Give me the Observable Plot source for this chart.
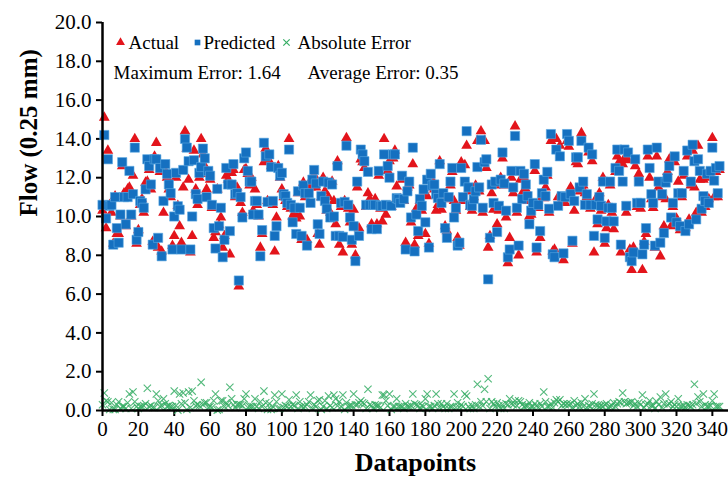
<!DOCTYPE html>
<html>
<head>
<meta charset="utf-8">
<script src="https://cdn.jsdelivr.net/npm/d3@7"></script>
<script src="https://cdn.jsdelivr.net/npm/@observablehq/plot@0.6"></script>
<style>
  html, body { margin: 0; padding: 0; background: #fff; }
  #chart { width: 728px; height: 477px; overflow: hidden; }
</style>
</head>
<body>
<div id="chart"></div>
<script>
// ---- Data ----
const actual = [
10.3,15.1,9.4,13.4,10.6,10.2,8.6,11.05,9.1,9.1,
10.0,12.6,11.2,9.5,11.4,11.5,10.0,12.1,14.0,8.6,
9.3,10.6,10.9,10.2,11.75,11.8,12.4,11.4,8.7,13.1,
13.8,8.4,12.3,8.2,10.2,12.35,12.0,11.4,11.0,8.5,
9.0,12.0,10.55,9.5,8.65,11.5,14.4,13.5,11.9,8.15,
9.0,13.4,11.4,10.6,12.0,14.0,13.2,12.6,11.4,12.2,
11.9,10.45,8.9,9.2,11.4,9.55,9.95,8.4,9.0,12.1,
11.9,8.05,12.25,12.4,11.0,11.5,6.4,10.7,10.2,12.4,
12.45,12.2,11.6,12.0,10.3,11.4,10.6,10.0,8.4,9.1,
12.8,13.5,10.8,12.85,12.6,10.6,8.2,9.95,12.6,12.0,
11.4,11.0,10.8,10.5,14.0,10.4,10.0,10.2,9.9,11.2,
10.0,8.8,11.75,11.0,8.8,11.65,11.5,12.0,12.1,11.5,
9.1,8.55,11.0,12.0,11.3,10.3,11.0,10.2,11.8,10.8,
9.6,12.85,8.55,10.5,8.15,10.8,14.05,10.4,9.7,8.55,
10.35,8.0,11.5,9.4,12.95,12.8,12.5,10.5,11.2,10.9,
9.6,10.5,10.9,9.6,12.1,10.4,9.75,14.0,10.1,12.35,
12.85,10.5,13.0,13.4,11.55,10.7,10.9,11.9,10.8,8.65,
11.5,11.6,9.7,12.7,8.55,10.4,9.0,10.8,10.3,11.2,
9.1,11.05,8.6,12.0,11.5,11.4,10.3,10.6,12.85,10.35,
11.0,9.5,9.25,10.9,11.6,12.3,10.8,10.3,8.9,8.5,
12.8,10.8,12.65,13.65,11.3,10.5,10.3,11.0,11.6,13.9,
11.3,14.4,10.2,13.9,12.5,8.4,9.0,11.2,10.35,11.6,
9.6,10.3,12.0,13.0,11.6,9.95,7.6,8.9,12.0,11.2,
14.65,10.2,8.0,11.9,11.2,12.0,11.4,10.8,10.0,10.1,
10.5,12.35,8.15,10.45,8.9,11.0,10.95,11.5,12.1,10.2,
13.9,8.2,8.3,14.0,11.0,13.65,10.8,7.75,10.7,13.9,
13.6,11.5,8.6,10.3,12.8,12.7,11.3,14.3,11.6,11.2,
11.0,13.3,10.4,12.85,8.15,10.9,9.6,11.2,10.3,12.0,
8.6,9.4,10.6,11.6,10.2,9.35,12.3,13.1,12.8,8.15,
12.7,13.0,10.2,12.9,8.3,7.25,8.4,12.6,10.5,12.2,
10.4,7.25,8.7,9.1,13.1,12.0,10.9,10.45,8.4,13.1,
11.5,7.95,11.0,9.5,10.9,12.3,12.95,9.5,10.5,12.8,
9.9,11.8,9.3,11.0,12.1,9.4,13.1,9.85,11.6,13.4,
11.5,10.2,13.65,11.9,10.2,11.9,10.5,12.0,10.9,12.1,
14.05,11.0,12.3,11.0,12.4
];
const predicted = [
10.6,14.2,9.9,12.95,10.55,10.6,8.55,11.0,9.4,8.65,
10.1,12.8,11.0,9.6,11.0,12.35,10.1,11.15,13.55,8.8,
9.2,10.8,10.7,10.45,11.4,12.95,12.6,11.65,8.55,12.95,
12.95,8.9,12.5,7.95,10.8,12.7,12.2,11.65,11.2,8.3,
10.0,12.25,10.53,10.35,8.3,12.4,14.0,13.55,12.85,8.3,
10.0,12.9,11.15,10.9,12.25,12.55,13.5,13.0,11.0,12.35,
12.1,10.6,9.4,8.35,11.42,9.5,10.45,7.9,8.8,12.5,
11.65,9.25,11.65,12.7,11.15,11.2,6.7,11.0,9.95,13.0,
13.3,12.35,11.8,11.8,10.1,10.8,10.8,10.1,7.95,9.3,
13.8,13.1,10.75,13.2,12.55,10.8,9.0,9.5,12.5,12.1,
12.25,11.15,11.05,10.7,13.45,10.6,9.7,10.45,9.1,11.3,
10.45,9.0,11.6,11.2,8.5,11.2,10.7,11.9,12.4,11.7,
9.6,9.1,11.05,11.8,10.8,10.4,11.75,9.95,11.65,10.0,
9.0,12.6,9.0,10.7,8.95,10.75,13.65,10.6,9.95,8.8,
9.5,7.7,11.8,9.0,13.45,13.2,12.85,10.6,12.3,10.6,
9.35,10.6,10.6,9.35,12.35,10.55,10.55,13.2,10.6,12.6,
12.0,10.55,13.2,13.2,10.95,10.9,10.7,12.1,10.9,8.3,
11.3,11.8,9.95,13.55,8.2,10.1,9.25,10.9,10.55,11.4,
9.7,11.9,8.4,12.2,11.6,11.65,11.15,10.95,12.7,10.7,
11.2,9.4,8.9,11.0,11.8,12.5,9.95,10.45,8.5,8.65,
12.5,11.0,11.8,14.4,11.5,10.6,10.55,10.9,11.3,12.55,
11.5,13.95,10.45,12.8,12.95,6.76,8.9,11.65,10.7,11.8,
9.2,10.55,11.9,13.3,11.7,10.3,7.9,8.3,12.35,11.5,
14.15,10.45,8.5,12.35,10.9,12.2,11.65,11.05,9.6,10.3,
10.7,12.7,8.4,10.6,9.25,11.2,11.9,11.05,12.3,10.4,
14.25,8.05,7.9,13.45,10.55,13.1,11.05,8.1,11.0,14.25,
13.9,11.15,8.75,10.8,13.05,13.05,11.5,13.9,11.8,10.6,
11.15,13.55,10.6,13.2,9.0,10.6,9.85,11.0,10.55,11.8,
8.9,9.75,10.45,11.8,10.45,9.75,12.5,13.45,12.35,8.55,
11.8,13.45,10.55,13.3,7.9,7.7,8.15,12.95,10.7,11.8,
10.7,8.05,8.55,9.4,13.45,12.5,11.15,10.7,8.5,13.55,
11.8,8.65,11.15,9.15,11.75,12.0,12.6,9.95,10.7,13.1,
9.7,11.2,9.5,11.2,12.35,9.25,13.4,9.6,11.8,13.7,
12.85,9.85,12.95,12.35,10.4,11.05,10.8,12.2,10.7,12.35,
13.55,11.85,12.5,11.2,12.6
];
const absError = [
0.3,0.9,0.5,0.45,0.05,0.4,0.05,0.05,0.3,0.45,
0.1,0.2,0.2,0.1,0.4,0.85,0.1,0.95,0.45,0.2,
0.1,0.2,0.2,0.25,0.35,1.15,0.2,0.25,0.15,0.15,
0.85,0.5,0.2,0.25,0.6,0.35,0.2,0.25,0.2,0.2,
1.0,0.25,0.02,0.85,0.35,0.9,0.4,0.05,0.95,0.15,
1.0,0.5,0.25,0.3,0.25,1.45,0.3,0.4,0.4,0.15,
0.2,0.15,0.5,0.85,0.02,0.05,0.5,0.5,0.2,0.4,
0.25,1.2,0.6,0.3,0.15,0.3,0.3,0.3,0.25,0.6,
0.85,0.15,0.2,0.2,0.2,0.6,0.2,0.1,0.45,0.2,
1.0,0.4,0.05,0.35,0.05,0.2,0.8,0.45,0.1,0.1,
0.85,0.15,0.25,0.2,0.55,0.2,0.3,0.25,0.8,0.1,
0.45,0.2,0.15,0.2,0.3,0.45,0.8,0.1,0.3,0.2,
0.5,0.55,0.05,0.2,0.5,0.1,0.75,0.25,0.15,0.8,
0.6,0.25,0.45,0.2,0.8,0.05,0.4,0.2,0.25,0.25,
0.85,0.3,0.3,0.4,0.5,0.4,0.35,0.1,1.1,0.3,
0.25,0.1,0.3,0.25,0.25,0.15,0.8,0.8,0.5,0.25,
0.85,0.05,0.2,0.2,0.6,0.2,0.2,0.2,0.1,0.35,
0.2,0.2,0.25,0.85,0.35,0.3,0.25,0.1,0.25,0.2,
0.6,0.85,0.2,0.2,0.1,0.25,0.85,0.35,0.15,0.35,
0.2,0.1,0.35,0.1,0.2,0.2,0.85,0.15,0.4,0.15,
0.3,0.2,0.85,0.75,0.2,0.1,0.25,0.1,0.3,1.35,
0.2,0.45,0.25,1.1,0.45,1.64,0.1,0.45,0.35,0.2,
0.4,0.25,0.1,0.3,0.1,0.35,0.3,0.6,0.35,0.3,
0.5,0.25,0.5,0.45,0.3,0.2,0.25,0.25,0.4,0.2,
0.2,0.35,0.25,0.15,0.35,0.2,0.95,0.45,0.2,0.2,
0.35,0.15,0.4,0.55,0.45,0.55,0.25,0.35,0.3,0.35,
0.3,0.35,0.15,0.5,0.25,0.35,0.2,0.4,0.2,0.6,
0.15,0.25,0.2,0.35,0.85,0.3,0.25,0.2,0.25,0.2,
0.3,0.35,0.15,0.2,0.25,0.4,0.2,0.35,0.45,0.4,
0.9,0.45,0.35,0.4,0.4,0.45,0.25,0.35,0.2,0.4,
0.3,0.8,0.15,0.3,0.35,0.5,0.25,0.25,0.1,0.45,
0.3,0.7,0.15,0.35,0.85,0.3,0.35,0.45,0.2,0.3,
0.2,0.6,0.2,0.2,0.25,0.15,0.3,0.25,0.2,0.3,
1.35,0.35,0.7,0.45,0.2,0.85,0.3,0.2,0.2,0.25,
0.5,0.85,0.2,0.2,0.2
];
const xTicks = [0,20,40,60,80,100,120,140,160,180,200,220,240,260,280,300,320,340];
const yTicks = [0,2,4,6,8,10,12,14,16,18,20];
const seriesNames = ["Actual", "Predicted", "Absolute Error"];
const statsText = ["Maximum Error: 1.64", "Average Error: 0.35"];
const xLabel = "Datapoints";
const yLabel = "Flow (0.25 mm)";

// ---- Build table ----
const rows = actual.map((a, i) => ({ i, a, p: predicted[i], e: absError[i] }));

const RED = "#e3141b", BLUE = "#1570c0", GREEN = "#35ad64";
const FONT = "'Liberation Serif', 'Times New Roman', serif";
const one = [0];

const chart = Plot.plot({
  width: 728,
  height: 477,
  marginLeft: 102,
  marginRight: 0,
  marginTop: 22,
  marginBottom: 67,
  style: { fontFamily: FONT, background: "#fff", color: "#000", overflow: "visible" },
  x: { domain: [0, 349] },
  y: { domain: [0, 20] },
  marks: [
    Plot.axisY({ ticks: yTicks, tickSize: 6, tickPadding: 5, strokeWidth: 2,
      tickFormat: d => d.toFixed(1), fontSize: 21, label: null }),
    Plot.axisX({ ticks: xTicks, tickSize: 6, tickPadding: 5, strokeWidth: 2,
      tickFormat: d => String(d), fontSize: 21, label: null }),
    Plot.dot(rows, { x: "i", y: "a", symbol: "triangle", r: 4.0, fill: RED, stroke: "none" }),
    Plot.dot(rows, { x: "i", y: "p", symbol: "square", r: 5.2, fill: BLUE, stroke: "#5aa7e0", strokeWidth: 0.6 }),
    Plot.dot(rows, { x: "i", y: "e", symbol: "times", r: 3.4, stroke: GREEN, strokeWidth: 1.1, strokeOpacity: 0.85 }),
    Plot.ruleX([0], { stroke: "#000", strokeWidth: 2.5 }),
    Plot.ruleY([0], { stroke: "#000", strokeWidth: 2.5 }),
    // legend (inside plot, top-left)
    Plot.dot(one, { frameAnchor: "top-left", dx: 18, dy: 20, symbol: "triangle", r: 3.3, fill: RED }),
    Plot.text(one, { frameAnchor: "top-left", dx: 26, dy: 20, text: () => seriesNames[0], textAnchor: "start", lineAnchor: "middle", fontSize: 19 }),
    Plot.dot(one, { frameAnchor: "top-left", dx: 95, dy: 20, symbol: "square", r: 3.2, fill: BLUE }),
    Plot.text(one, { frameAnchor: "top-left", dx: 101, dy: 20, text: () => seriesNames[1], textAnchor: "start", lineAnchor: "middle", fontSize: 19 }),
    Plot.dot(one, { frameAnchor: "top-left", dx: 184, dy: 20, symbol: "times", r: 3, stroke: GREEN, strokeWidth: 1.2 }),
    Plot.text(one, { frameAnchor: "top-left", dx: 195, dy: 20, text: () => seriesNames[2], textAnchor: "start", lineAnchor: "middle", fontSize: 19 }),
    Plot.text(one, { frameAnchor: "top-left", dx: 11, dy: 50, text: () => statsText[0], textAnchor: "start", lineAnchor: "middle", fontSize: 19 }),
    Plot.text(one, { frameAnchor: "top-left", dx: 205, dy: 50, text: () => statsText[1], textAnchor: "start", lineAnchor: "middle", fontSize: 19 }),
    // axis titles
    Plot.text(one, { frameAnchor: "bottom", dy: 52, text: () => xLabel, fontWeight: "bold", fontSize: 26, lineAnchor: "middle" }),
    Plot.text(one, { frameAnchor: "left", dx: -74, dy: 0, text: () => yLabel, rotate: -90, fontWeight: "bold", fontSize: 25, lineAnchor: "middle" })
  ]
});
document.getElementById("chart").appendChild(chart);
</script>
</body>
</html>
